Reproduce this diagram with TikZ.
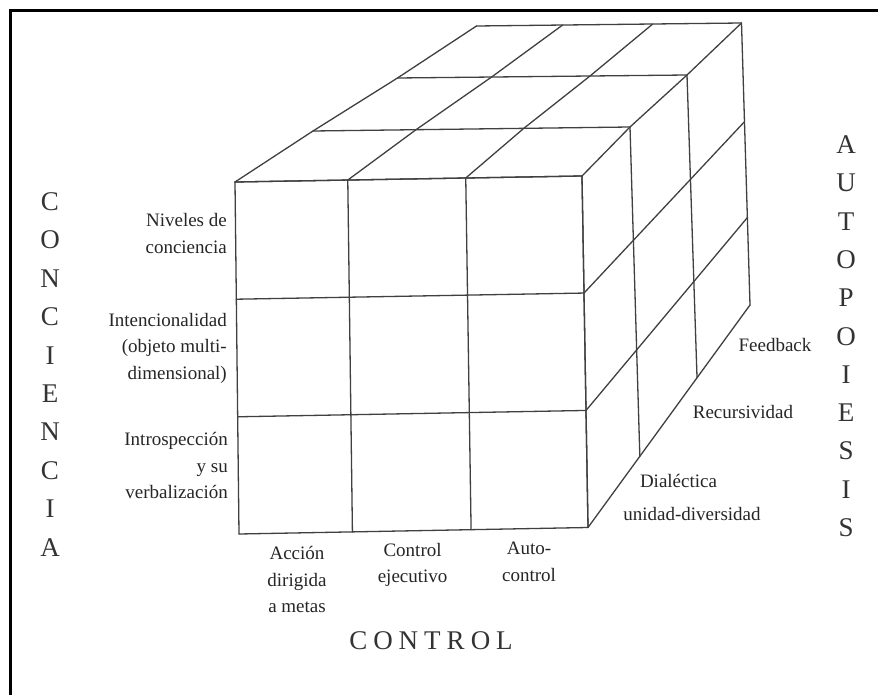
\documentclass[tikz,border=0pt]{standalone}
\usepackage{fontspec}
\setmainfont{Liberation Serif}
\usetikzlibrary{calc}
\begin{document}
\begin{tikzpicture}[x=1pt,y=-1pt,
  cube/.style={draw=black!75, line width=1.3pt, line join=round, line cap=round},
  lab/.style={font=\fontsize{19}{26.5}\selectfont, text=black!85, inner sep=0pt},
  big/.style={font=\fontsize{27}{30}\selectfont, text=black!80, inner sep=0pt}]
\useasboundingbox (0,0) rectangle (878,695);
\fill[white] (0,0) rectangle (878,695);
\draw[line width=3pt] (10,696) -- (10,11) -- (879,11);
% cube corners
\coordinate (L0) at (235,182);
\coordinate (L1) at (313,131);
\coordinate (L2) at (397.5,78);
\coordinate (L3) at (476.5,26);
\coordinate (R0) at (582,176);
\coordinate (R1) at (630,127);
\coordinate (R2) at (687,75);
\coordinate (R3) at (741.5,23);
\coordinate (BL) at (239,534);
\coordinate (BR) at (588,527.5);
\coordinate (BB) at (750,305);
% top face
\draw[cube] (L0)--(R0) (L1)--(R1) (L2)--(R2) (L3)--(R3);
\foreach \c in {0,0.325,0.665,1}
  \draw[cube] ($(L0)!\c!(R0)$) -- ($(L1)!\c!(R1)$) -- ($(L2)!\c!(R2)$) -- ($(L3)!\c!(R3)$);
% front face
\foreach \r in {0,0.333,0.667,1}
  \draw[cube] ($(L0)!\r!(BL)$) -- ($(R0)!\r!(BR)$);
\foreach \c in {0,0.325,0.665,1}
  \draw[cube] ($(L0)!\c!(R0)$) -- ($(BL)!\c!(BR)$);
% right face
\draw[cube] (R0)--(BR) (R1)--($(BR)!0.32!(BB)$) (R2)--($(BR)!0.673!(BB)$) (R3)--(BB);
\foreach \r/\s in {0.333/0.35,0.667/0.69,1/1}
  \draw[cube] ($(R0)!\r!(BR)$) -- ($(R3)!\s!(BB)$);
% left labels
\node[lab, anchor=east, align=right] (n1) at (227,233.5) {Niveles de\\conciencia};
\node[lab, anchor=east, align=right] (n2) at (227,348) {Intencionalidad\\(objeto multi-\\dimensional)};
\node[lab, anchor=east, align=right] (n3) at (228,465.5) {Introspección\\y su\\verbalización};
% bottom labels
\node[lab, align=center] (b1) at (297,579.5) {Acción\\dirigida\\a metas};
\node[lab, align=center] (b2) at (412.6,565) {Control\\ejecutivo};
\node[lab, align=center] (b3) at (529,562) {Auto-\\control};
% right labels
\node[lab] (r1) at (775,345) {Feedback};
\node[lab] (r2) at (743,412) {Recursividad};
\node[lab] (r3) at (678.5,481) {Dialéctica};
\node[lab] (r4) at (692,514) {unidad-diversidad};
% axis titles
\node[big] (ctl) at (431,640.5) {C\kern6pt O\kern6pt N\kern6pt T\kern6pt R\kern6pt O\kern6pt L};
\foreach \ch [count=\i from 0] in {C,O,N,C,I,E,N,C,I,A}
  \node[big] (cc\i) at (50,201.7+38.4*\i) {\ch};
\foreach \ch [count=\i from 0] in {A,U,T,O,P,O,I,E,S,I,S}
  \node[big] (aa\i) at (846,145+38.25*\i) {\ch};
\end{tikzpicture}
\end{document}
